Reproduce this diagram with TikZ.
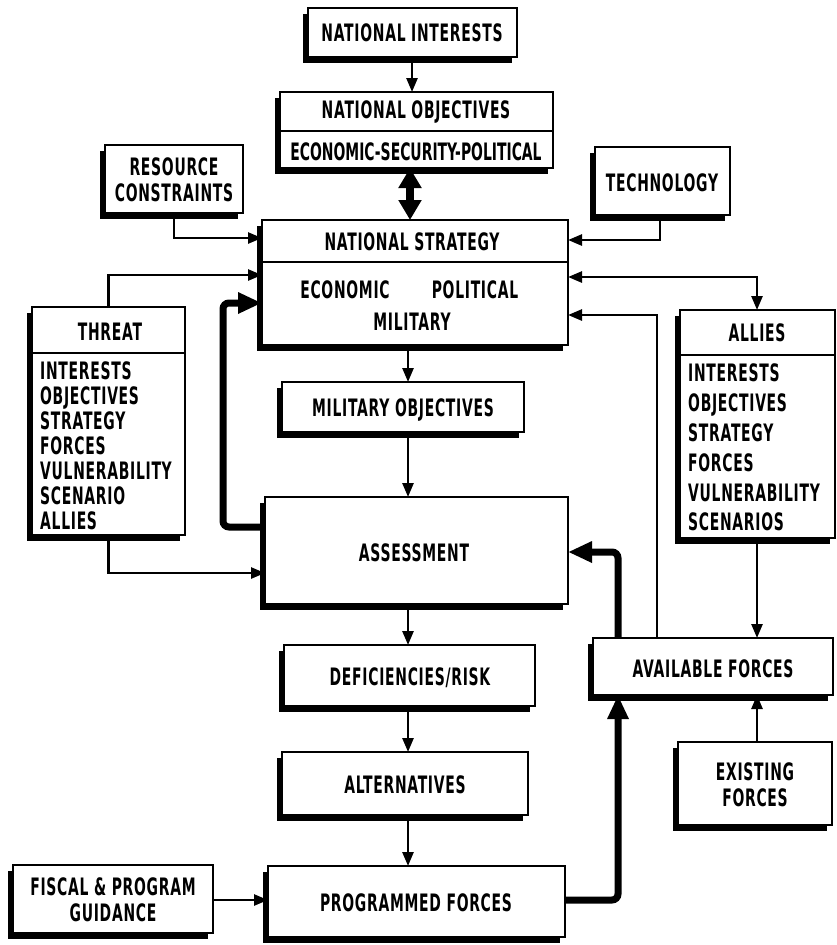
\documentclass[tikz,border=0pt]{standalone}
\usepackage{fontspec}
\newfontfamily\lab{DejaVu Sans}[FakeStretch=0.58, LetterSpace=3]
\newfontfamily\labn{DejaVu Sans}[FakeStretch=0.58]
\usetikzlibrary{arrows.meta,shadows}
\begin{document}
\begin{tikzpicture}[x=1pt,y=-1pt,
  box/.style={draw, line width=1.8pt, fill=white, inner sep=0pt, outer sep=0pt,
    drop shadow={shadow xshift=-5.5pt, shadow yshift=-5.5pt, fill=black, opacity=1}},
  lbl/.style={font=\lab\bfseries\fontsize{24}{26.5}\selectfont, inner sep=0pt, align=center},
  lbln/.style={font=\labn\bfseries\fontsize{24}{26.5}\selectfont, inner sep=0pt, align=center},
  item/.style={lbl, anchor=base west},
  divider/.style={line width=1.8pt},
  con/.style={line width=2.6pt, -{Triangle[length=14pt,width=11pt]}},
  fat/.style={line width=7pt, -{Triangle[length=24pt,width=20pt]}, rounded corners=6pt}]
\useasboundingbox (0,0) rectangle (837,945);
% boxes
\node[box, minimum width=209pt, minimum height=49pt] (ni) at (412.5,32.5) {};
\node[box, minimum width=273pt, minimum height=76pt] (no) at (416.5,130) {};
\node[box, minimum width=306pt, minimum height=125pt] (ns) at (415,282.5) {};
\node[box, minimum width=138pt, minimum height=68pt] (rc) at (174,179) {};
\node[box, minimum width=135pt, minimum height=68pt] (tech) at (662.5,181) {};
\node[box, minimum width=153pt, minimum height=228pt] (th) at (108.5,421) {};
\node[box, minimum width=155pt, minimum height=228pt] (al) at (757.5,424) {};
\node[box, minimum width=242pt, minimum height=50pt] (mo) at (403,407) {};
\node[box, minimum width=303pt, minimum height=107pt] (as) at (416.5,550.5) {};
\node[box, minimum width=251pt, minimum height=61pt] (dr) at (409.5,675.5) {};
\node[box, minimum width=246pt, minimum height=63pt] (alt) at (405,783.5) {};
\node[box, minimum width=297pt, minimum height=71pt] (pf) at (416.5,901.5) {};
\node[box, minimum width=200pt, minimum height=68pt] (fis) at (113,899) {};
\node[box, minimum width=240pt, minimum height=57pt] (af) at (713,666.5) {};
\node[box, minimum width=154pt, minimum height=83pt] (ef) at (755,783.5) {};
% dividers
\draw[divider] (no.west |- 0,131) -- (no.east |- 0,131);
\draw[divider] (ns.west |- 0,262) -- (ns.east |- 0,262);
\draw[divider] (th.west |- 0,353) -- (th.east |- 0,353);
\draw[divider] (al.west |- 0,355) -- (al.east |- 0,355);
% texts
\node[lbl] (tni) at (412,33) {NATIONAL INTERESTS};
\node[lbl] (tno1) at (416,112) {NATIONAL OBJECTIVES};
\node[lbln] (tno2) at (416,152) {ECONOMIC-SECURITY-POLITICAL};
\node[lbl] (tns1) at (412,242) {NATIONAL STRATEGY};
\node[lbl] (tns2) at (345,290) {ECONOMIC};
\node[lbl] (tns3) at (475,290) {POLITICAL};
\node[lbl] (tns4) at (412,322) {MILITARY};
\node[lbl] (trc) at (174,180) {RESOURCE\\CONSTRAINTS};
\node[lbl] (ttech) at (662,183) {TECHNOLOGY};
\node[lbl] (tth) at (110,332) {THREAT};
\node[item] (th1) at (40,379) {INTERESTS};
\node[item] (th2) at (40,404) {OBJECTIVES};
\node[item] (th3) at (40,429) {STRATEGY};
\node[item] (th4) at (40,454) {FORCES};
\node[item] (th5) at (40,479) {VULNERABILITY};
\node[item] (th6) at (40,504) {SCENARIO};
\node[item] (th7) at (40,529) {ALLIES};
\node[lbl] (tal) at (757,333) {ALLIES};
\node[item] (al1) at (688,381) {INTERESTS};
\node[item] (al2) at (688,411) {OBJECTIVES};
\node[item] (al3) at (688,441) {STRATEGY};
\node[item] (al4) at (688,471) {FORCES};
\node[item] (al5) at (688,501) {VULNERABILITY};
\node[item] (al6) at (688,530) {SCENARIOS};
\node[lbl] (tmo) at (403,410) {MILITARY OBJECTIVES};
\node[lbl] (tas) at (414,553) {ASSESSMENT};
\node[lbl] (tdr) at (410,678) {DEFICIENCIES/RISK};
\node[lbl] (talt) at (405,785) {ALTERNATIVES};
\node[lbl] (tpf) at (416,903) {PROGRAMMED FORCES};
\node[lbl] (tfis) at (113,900) {FISCAL \& PROGRAM\\GUIDANCE};
\node[lbl] (taf) at (713,669) {AVAILABLE FORCES};
\node[lbl] (tef) at (755,785) {EXISTING\\FORCES};
% connectors
\draw[con] (ni.south -| 412,0) -- (no.north -| 412,0);
\draw[line width=8pt, {Triangle[length=20pt,width=22pt]}-{Triangle[length=20pt,width=22pt]}] (no.south -| 410,0) -- (ns.north -| 410,0);
\draw[con] (rc.south) |- (ns.west |- 0,238);
\draw[con] (tech.south -| 660,0) |- (ns.east |- 0,240);
\draw[con] (th.north) |- (ns.west |- 0,275);
\draw[fat] (as.west |- 0,527) -| (223,303) -- (ns.west |- 0,303);
\draw[con] (th.south) |- (as.west |- 0,573);
\draw[con] (ns.south -| 408,0) -- (mo.north -| 408,0);
\draw[con] (mo.south -| 408,0) -- (as.north -| 408,0);
\draw[con] (as.south -| 408,0) -- (dr.north -| 408,0);
\draw[con] (dr.south -| 408,0) -- (alt.north -| 408,0);
\draw[con] (alt.south -| 408,0) -- (pf.north -| 408,0);
\draw[con] (fis.east |- 0,900) -- (pf.west |- 0,900);
\draw[fat] (pf.east |- 0,900) -| (af.south -| 618,0);
\draw[fat] (af.north -| 618,0) |- (as.east |- 0,552);
\draw[con] (af.north -| 657,0) |- (ns.east |- 0,315);
\draw[con, {Triangle[length=14pt,width=11pt]}-{Triangle[length=14pt,width=11pt]}] (ns.east |- 0,277) -| (al.north -| 757,0);
\draw[con] (al.south -| 757,0) -- (af.north -| 757,0);
\draw[con] (ef.north -| 757,0) -- (af.south -| 757,0);
\end{tikzpicture}
\end{document}
